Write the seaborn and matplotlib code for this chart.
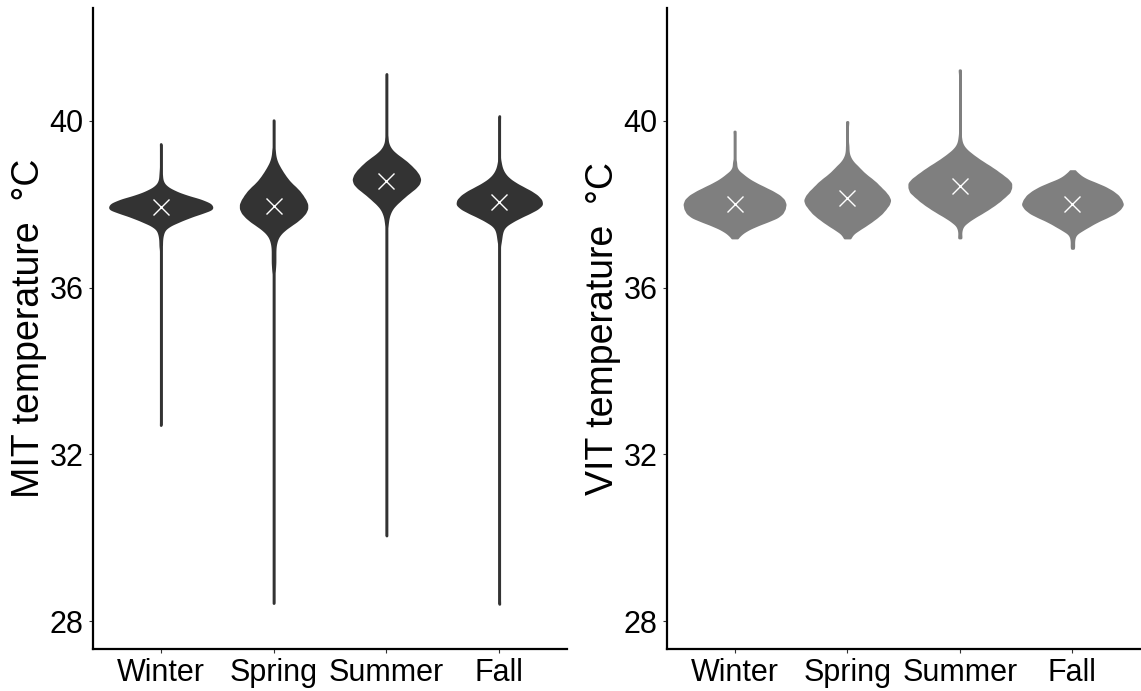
import numpy as np
import pandas as pd
import matplotlib
matplotlib.use("Agg")
import matplotlib.pyplot as plt
import seaborn as sns

# Seasons on the x axis
SEASONS = ["Winter", "Spring", "Summer", "Fall"]

# Centres of the 0.1 °C reading bins, warmest first
TEMP_BINS = [39.6, 39.5, 39.4, 39.3, 39.2, 39.1, 39.0, 38.9, 38.8, 38.7, 38.6,
             38.5, 38.4, 38.3, 38.2, 38.1, 38.0, 37.9, 37.8, 37.7, 37.6, 37.5,
             37.4, 37.3, 37.2, 37.1, 37.0, 36.9, 36.8, 36.7, 36.6, 36.5, 36.4]

# MIT readings per bin, one list per season
MIT_WINTER = [0, 0, 0, 0, 0, 0, 0, 0, 2, 4, 6, 16, 43, 97, 171, 279, 349, 369,
              279, 194, 124, 58, 23, 12, 6, 4, 4, 0, 0, 0, 0, 0, 0]
MIT_SPRING = [0, 0, 0, 2, 3, 6, 11, 19, 28, 38, 49, 62, 79, 94, 105, 115, 122,
              122, 115, 101, 83, 60, 39, 23, 13, 8, 5, 4, 4, 4, 4, 3, 2]
MIT_SUMMER = [2, 3, 9, 20, 39, 64, 88, 107, 125, 138, 145, 140, 123, 99, 77, 57,
              37, 22, 13, 7, 4, 2, 0, 0, 0, 0, 0, 0, 0, 0, 0, 0, 0]
MIT_FALL = [0, 0, 0, 0, 0, 0, 4, 8, 16, 29, 50, 81, 120, 162, 194, 214, 220,
            194, 152, 105, 65, 31, 16, 10, 7, 4, 0, 0, 0, 0, 0, 0, 0]
# Single extreme MIT readings outside the bins (lowest, highest)
MIT_LOW = [32.70, 28.43, 30.05, 28.41]
MIT_HIGH = [39.45, 40.02, 41.13, 40.12]
MIT_MEAN = [37.93, 37.95, 38.56, 38.05]

# VIT readings per bin, one list per season
VIT_WINTER = [0, 0, 0, 0, 0, 0, 2, 2, 6, 17, 28, 43, 61, 79, 94, 103, 106, 104,
              100, 90, 68, 45, 26, 13, 4, 0, 0, 0, 0, 0, 0, 0, 0]
VIT_SPRING = [0, 0, 1, 1, 2, 5, 10, 18, 25, 33, 43, 52, 59, 67, 73, 77, 74, 68,
              62, 53, 43, 32, 20, 9, 4, 0, 0, 0, 0, 0, 0, 0, 0]
VIT_SUMMER = [1, 2, 5, 11, 20, 30, 41, 53, 64, 74, 84, 91, 90, 88, 79, 71, 61,
              50, 38, 25, 14, 5, 2, 1, 1, 0, 0, 0, 0, 0, 0, 0, 0]
VIT_FALL = [0, 0, 0, 0, 0, 0, 0, 0, 3, 14, 27, 51, 73, 89, 101, 107, 112, 105,
            94, 75, 54, 38, 22, 7, 3, 2, 2, 0, 0, 0, 0, 0, 0]
VIT_LOW = [37.20, 37.20, 37.20, 36.95]
VIT_HIGH = [39.75, 39.98, 41.22, 38.78]
VIT_MEAN = [38.00, 38.15, 38.45, 38.00]

Y_TICKS = [28, 32, 36, 40]

sns.set_style("ticks")
plt.rcParams["font.family"] = ["Liberation Sans", "DejaVu Sans"]


def season_frame(count_lists, lows, highs):
    """Expand binned counts into individual readings per season."""
    parts = []
    for season, counts, lo, hi in zip(SEASONS, count_lists, lows, highs):
        temps = np.concatenate([np.repeat(TEMP_BINS, counts), [lo, hi]])
        parts.append(pd.DataFrame({"season": season, "temp": temps}))
    return pd.concat(parts, ignore_index=True)


KERNEL_SD = 0.06  # °C


def fixed_bandwidth(kde):
    # same kernel width in °C for every season
    return KERNEL_SD / np.std(kde.dataset, ddof=1)


mit = season_frame([MIT_WINTER, MIT_SPRING, MIT_SUMMER, MIT_FALL], MIT_LOW, MIT_HIGH)
vit = season_frame([VIT_WINTER, VIT_SPRING, VIT_SUMMER, VIT_FALL], VIT_LOW, VIT_HIGH)

W, H = 1141, 691
fig = plt.figure(figsize=(W / 100, H / 100), dpi=100)
ax_mit = fig.add_axes([93 / W, 42 / H, 474 / W, 641 / H])
ax_vit = fig.add_axes([667 / W, 42 / H, 473 / W, 641 / H])

panels = [
    (ax_mit, mit, MIT_MEAN, "#333333", "MIT temperature  °C"),
    (ax_vit, vit, VIT_MEAN, "#7f7f7f", "VIT temperature  °C"),
]

for ax, df, means, color, label in panels:
    sns.violinplot(data=df, x="season", y="temp", order=SEASONS, color=color,
                   saturation=1, linecolor=color, linewidth=1.8, inner=None,
                   cut=0, gridsize=1500, bw_method=fixed_bandwidth,
                   density_norm="count", width=0.9, ax=ax)
    sns.pointplot(x=SEASONS, y=means, order=SEASONS, color="white", marker="x",
                  linestyle="none", errorbar=None, markersize=12,
                  markeredgewidth=1.0, ax=ax)
    ax.set_xlim(-0.6, 3.6)
    ax.set_ylim(27.33, 42.71)
    ax.set_yticks(Y_TICKS)
    ax.set_yticklabels([str(t) for t in Y_TICKS])
    ax.set_xlabel("")
    ax.set_ylabel(label, fontsize=27, color="black", labelpad=2)
    sns.despine(ax=ax)
    for side in ("left", "bottom"):
        ax.spines[side].set_linewidth(1.6)
        ax.spines[side].set_color("black")
    ax.tick_params(axis="both", labelsize=22, labelcolor="black",
                   color="#333333", length=2.8, width=0.8, pad=4)

fig.savefig("out.png", dpi=100, facecolor="white")
